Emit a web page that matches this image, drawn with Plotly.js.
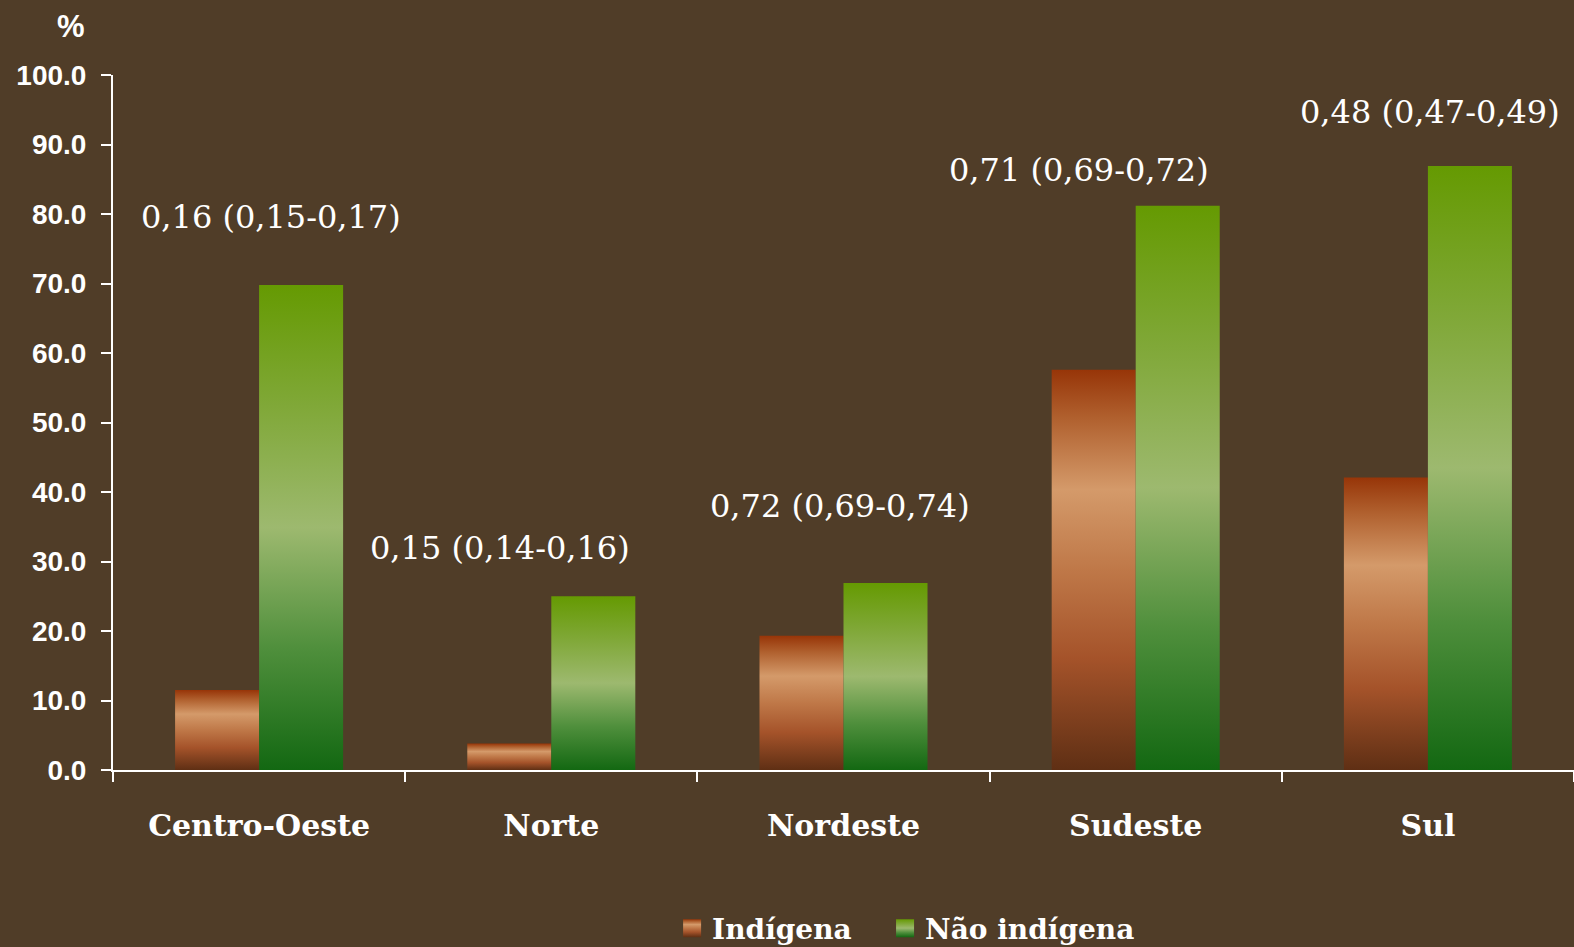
<!DOCTYPE html>
<html>
<head>
<meta charset="utf-8">
<script src="https://cdn.plot.ly/plotly-3.0.1.min.js"></script>
<style>
html,body{margin:0;padding:0;background:#503d28;width:1574px;height:947px;overflow:hidden;}
#chart{width:1574px;height:947px;display:block;overflow:hidden;}
</style>
</head>
<body>
<div id="chart"></div>
<script>
const categories = ["Centro-Oeste", "Norte", "Nordeste", "Sudeste", "Sul"];
const indigena = [11.5, 3.8, 19.3, 57.6, 42.1];
const naoIndigena = [69.8, 25.0, 26.9, 81.2, 86.9];
const ratioLabels = ["0,16 (0,15-0,17)", "0,15 (0,14-0,16)", "0,72 (0,69-0,74)", "0,71 (0,69-0,72)", "0,48 (0,47-0,49)"];
const labelY = [79.6, 31.9, 38.0, 86.3, 94.7];
const labelShift = [12, -51, -4, -57, 2];
const yTicks = [0, 10, 20, 30, 40, 50, 60, 70, 80, 90, 100];

const bg = "#503d28";
const serif = "'DejaVu Serif', 'Liberation Serif', serif";
const sans = "'Liberation Sans', Arial, sans-serif";

const traces = [
  {type: "bar", name: "Indígena", x: categories, y: indigena, legend: "legend",
   marker: {color: "#b5693a", line: {width: 0}}, hoverinfo: "skip"},
  {type: "bar", name: "Não indígena", x: categories, y: naoIndigena, legend: "legend2",
   marker: {color: "#84a84a", line: {width: 0}}, hoverinfo: "skip"}
];

const annotations = categories.map((c, i) => ({
  x: c, y: labelY[i], xref: "x", yref: "y", text: ratioLabels[i],
  showarrow: false, xshift: labelShift[i], xanchor: "center", yanchor: "middle",
  font: {family: serif, size: 32, color: "#ffffff"}
}));
annotations.push({
  x: -0.0285, y: 1.0705, xref: "paper", yref: "paper", text: "<b>%</b>",
  xanchor: "center", yanchor: "middle",
  showarrow: false, font: {family: sans, size: 31, color: "#ffffff"}
});

const legendBase = {
  orientation: "h", xref: "container", yref: "container",
  xanchor: "left", y: 0.0196, yanchor: "middle",
  font: {family: serif, size: 28, color: "#ffffff", weight: "bold"},
  bgcolor: "rgba(0,0,0,0)", itemwidth: 30
};

const layout = {
  width: 1574, height: 947,
  paper_bgcolor: bg, plot_bgcolor: bg,
  margin: {l: 113, r: 0, t: 75, b: 177, autoexpand: false},
  barmode: "group", bargap: 0.425, bargroupgap: 0,
  showlegend: true,
  legend: Object.assign({}, legendBase, {x: 0.427}),
  legend2: Object.assign({}, legendBase, {x: 0.5623}),
  xaxis: {
    type: "category", showline: true, linecolor: "#ffffff", linewidth: 2,
    ticks: "outside", tickson: "boundaries", ticklen: 10, tickcolor: "#ffffff", tickwidth: 2,
    showgrid: false, zeroline: false, ticklabelstandoff: 28, automargin: false,
    tickfont: {family: serif, size: 30, color: "#ffffff", weight: "bold"}
  },
  yaxis: {
    range: [0, 100], tickvals: yTicks, tickformat: ".1f",
    showline: true, linecolor: "#ffffff", linewidth: 2,
    ticks: "outside", ticklen: 10, tickcolor: "#ffffff", tickwidth: 2,
    showgrid: false, zeroline: false, ticklabelstandoff: 9, automargin: false,
    tickfont: {family: sans, size: 28, color: "#ffffff", weight: "bold"}
  },
  annotations: annotations
};

function addGradients(gd) {
  const svg = gd.querySelector("svg.main-svg");
  const ns = "http://www.w3.org/2000/svg";
  let defs = svg.querySelector("defs");
  if (!defs) { defs = document.createElementNS(ns, "defs"); svg.insertBefore(defs, svg.firstChild); }
  function grad(id, stops) {
    const g = document.createElementNS(ns, "linearGradient");
    g.setAttribute("id", id);
    g.setAttribute("x1", "0"); g.setAttribute("y1", "0");
    g.setAttribute("x2", "0"); g.setAttribute("y2", "1");
    stops.forEach(s => {
      const st = document.createElementNS(ns, "stop");
      st.setAttribute("offset", s[0]); st.setAttribute("stop-color", s[1]);
      g.appendChild(st);
    });
    defs.appendChild(g);
  }
  grad("gradBrown", [["0", "#973508"], ["0.12", "#b0602e"], ["0.3", "#d49a6a"], ["0.5", "#bf7848"], ["0.72", "#a5532a"], ["1", "#5f2f14"]]);
  grad("gradGreen", [["0", "#659a02"], ["0.25", "#80a838"], ["0.5", "#9db96f"], ["0.75", "#4f8f3c"], ["1", "#136812"]]);
  const ids = ["gradBrown", "gradGreen"];
  gd.querySelectorAll(".barlayer .trace").forEach((t, i) => {
    t.querySelectorAll("path").forEach(p => { p.style.fill = "url(#" + ids[i] + ")"; });
  });
  ["legend", "legend2"].forEach((cls, i) => {
    gd.querySelectorAll("g." + cls + " .legendpoints path").forEach(p => {
      p.style.fill = "url(#" + ids[i] + ")";
      p.setAttribute("d", "M9,9H-9V-9H9Z");
    });
  });
}

Plotly.newPlot("chart", traces, layout, {displayModeBar: false, responsive: false, staticPlot: true})
  .then(addGradients);
</script>
</body>
</html>
